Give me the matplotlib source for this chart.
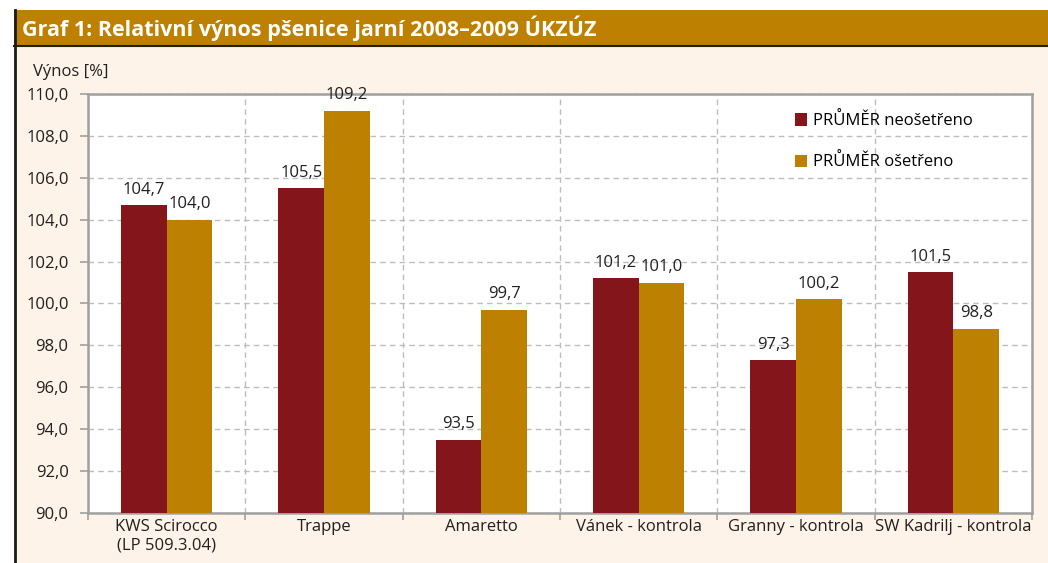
import matplotlib
matplotlib.use("Agg")
import matplotlib.pyplot as plt
from matplotlib.patches import Rectangle
import numpy as np

categories = ["KWS Scirocco\n(LP 509.3.04)", "Trappe", "Amaretto", "Vánek - kontrola",
              "Granny - kontrola", "SW Kadrilj - kontrola"]
neosetreno = [104.7, 105.5, 93.5, 101.2, 97.3, 101.5]
osetreno = [104.0, 109.2, 99.7, 101.0, 100.2, 98.8]
series_names = ["PRŮMĚR neošetřeno", "PRŮMĚR ošetřeno"]
yticks = np.arange(90, 110.1, 2)

RED = "#84161B"
GOLD = "#BE8000"
BG = "#FDF3E8"
TXT = "#231f20"
FONT = ["Open Sans", "DejaVu Sans"]
FS = 12

W, H = 1048, 563
fig = plt.figure(figsize=(W / 100, H / 100), dpi=100)
fig.patch.set_facecolor("white")

fig.add_artist(Rectangle((14 / W, 0), 1 - 14 / W, 1 - 46 / H, transform=fig.transFigure,
                         facecolor=BG, edgecolor="none", zorder=0))
fig.add_artist(Rectangle((14 / W, 1 - 46 / H), 1 - 14 / W, 36 / H, transform=fig.transFigure,
                         facecolor=GOLD, edgecolor="none", zorder=1))
fig.add_artist(plt.Line2D([14 / W, 1], [1 - 46 / H, 1 - 46 / H], transform=fig.transFigure,
                          color="#2a1a10", lw=1.5, zorder=2))
fig.add_artist(plt.Line2D([15 / W, 15 / W], [0, 1 - 10 / H], transform=fig.transFigure,
                          color="#1a1a1a", lw=2, zorder=2))
fig.text(22 / W, 1 - 28 / H, "Graf 1: Relativní výnos pšenice jarní 2008–2009 ÚKZÚZ",
         color="white", fontsize=15.5, fontweight="bold", va="center", ha="left",
         family=FONT)

ax = fig.add_axes([88 / W, 50 / H, (1032 - 88) / W, (513 - 94) / H])
ax.set_facecolor("white")
x = np.arange(len(categories))
bw = 0.29
b1 = ax.bar(x - bw / 2, [v - 90 for v in neosetreno], bw, bottom=90, color=RED,
            label=series_names[0], zorder=3)
b2 = ax.bar(x + bw / 2, [v - 90 for v in osetreno], bw, bottom=90, color=GOLD,
            label=series_names[1], zorder=3)
for bars, vals in ((b1, neosetreno), (b2, osetreno)):
    for b, v in zip(bars, vals):
        ax.text(b.get_x() + b.get_width() / 2, v + 0.35, f"{v:.1f}".replace(".", ","),
                ha="center", va="bottom", fontsize=FS, color=TXT, family=FONT)

ax.set_xlim(-0.5, len(categories) - 0.5)
ax.set_ylim(90, 110)
ax.set_yticks(yticks)
ax.set_yticklabels([f"{v:.1f}".replace(".", ",") for v in yticks], fontsize=FS,
                   color=TXT, family=FONT)
ax.set_xticks(x)
ax.set_xticklabels(categories, fontsize=FS, color=TXT, family=FONT, linespacing=1.25)
ax.tick_params(axis="x", length=0, pad=4)
ax.tick_params(axis="y", length=6, color="#a0a0a0", width=1.2, pad=8)
ax.set_xticks(np.arange(-0.5, len(categories)), minor=True)
ax.tick_params(axis="x", which="minor", length=5, color="#a0a0a0", width=1.2)
ax.grid(axis="y", which="major", linestyle=(0, (4, 3)), color="#bdbdbd", lw=1, zorder=0)
ax.grid(axis="x", which="minor", linestyle=(0, (4, 3)), color="#bdbdbd", lw=1, zorder=0)
ax.grid(axis="x", which="major", visible=False)
for s in ax.spines.values():
    s.set_color("#a0a0a0")
    s.set_linewidth(1.8)

ax.legend(loc="upper left", bbox_to_anchor=(0.733, 0.992), frameon=False,
          handlelength=0.75, handleheight=0.75, handletextpad=0.35, labelspacing=1.45,
          prop={"family": FONT, "size": FS})

fig.text(33 / W, 1 - 72 / H, "Výnos [%]", fontsize=FS, color=TXT, va="center",
         family=FONT)

fig.savefig("out.png", dpi=100, facecolor=fig.get_facecolor())
